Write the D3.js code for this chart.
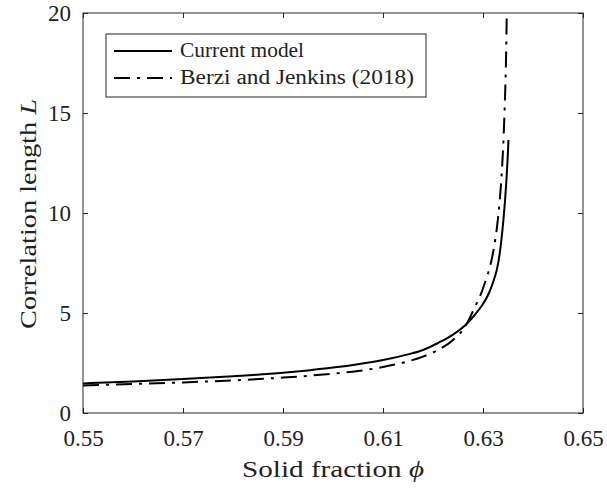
<!DOCTYPE html>
<html>
<head>
<meta charset="utf-8">
<script src="https://cdn.jsdelivr.net/npm/d3@7"></script>
<style>
  body { margin: 0; background: #fff; }
  text { font-family: "Liberation Serif", "DejaVu Serif", serif; fill: #222; }
</style>
</head>
<body>
<div id="chart"></div>
<script>
// solid fraction ticks and axis labels
const xTicks = [0.55, 0.57, 0.59, 0.61, 0.63, 0.65]
const yTicks = [0, 5, 10, 15, 20]

// Current model
const phiCurrent = [0.550, 0.560, 0.570, 0.580, 0.590, 0.595, 0.600, 0.605, 0.610, 0.615, 0.618, 0.621, 0.624, 0.6265, 0.6285, 0.6300, 0.6312, 0.6321, 0.6328, 0.6333, 0.6337, 0.6341, 0.6344, 0.6347, 0.6349, 0.6351]
const lenCurrent = [1.48, 1.58, 1.70, 1.84, 2.01, 2.13, 2.27, 2.44, 2.65, 2.93, 3.15, 3.50, 3.92, 4.40, 4.95, 5.45, 6.00, 6.60, 7.20, 7.90, 8.70, 9.70, 10.6, 11.7, 12.6, 13.65]

// Berzi and Jenkins (2018)
const phiBerzi = [0.550, 0.560, 0.570, 0.580, 0.590, 0.595, 0.600, 0.605, 0.610, 0.615, 0.618, 0.621, 0.624, 0.6265, 0.6281, 0.6301, 0.6321, 0.6328, 0.6333, 0.6337, 0.63405, 0.6343, 0.6345, 0.63463, 0.63475]
const lenBerzi = [1.38, 1.45, 1.53, 1.63, 1.77, 1.86, 1.97, 2.10, 2.30, 2.58, 2.82, 3.15, 3.65, 4.35, 5.15, 6.30, 8.15, 9.30, 10.5, 11.8, 13.4, 15.0, 16.6, 18.0, 20.0]

const seriesNames = ["Current model", "Berzi and Jenkins (2018)"]

const width = 607, height = 488
const margin = {top: 13, right: 24, bottom: 75, left: 83}

const svg = d3.select("#chart")
    .append("svg")
    .attr("width", width)
    .attr("height", height)

const x = d3.scaleLinear().domain([0.55, 0.65]).range([margin.left, width - margin.right])
const y = d3.scaleLinear().domain([0, 20]).range([height - margin.bottom, margin.top])

const axisColor = "#262626"

// clip so the curves stop at the box
svg.append("clipPath").attr("id", "clip")
    .append("rect")
    .attr("x", x(0.55)).attr("y", y(20))
    .attr("width", x(0.65) - x(0.55)).attr("height", y(0) - y(20))

const line = d3.line()
    .x(d => x(d[0]))
    .y(d => y(d[1]))
    .curve(d3.curveMonotoneX)

const current = phiCurrent.map((p, i) => [p, lenCurrent[i]])
const berzi = phiBerzi.map((p, i) => [p, lenBerzi[i]])

const dashDot = "16,7,3,7"

svg.append("path")
    .datum(berzi)
    .attr("clip-path", "url(#clip)")
    .attr("d", line)
    .attr("fill", "none")
    .attr("stroke", "black")
    .attr("stroke-width", 2)
    .attr("stroke-dasharray", dashDot)

svg.append("path")
    .datum(current)
    .attr("clip-path", "url(#clip)")
    .attr("d", line)
    .attr("fill", "none")
    .attr("stroke", "black")
    .attr("stroke-width", 2)

// axes, ticks pointing inward (matlab style), box on
const tickLen = 5
const styleAxis = g => {
    g.select(".domain").remove()
    g.selectAll(".tick line").attr("stroke", axisColor)
    g.selectAll(".tick text")
        .style("font-family", "Liberation Serif, DejaVu Serif, serif")
        .style("font-size", "23px")
        .attr("fill", "#222")
}

svg.append("g")
    .attr("transform", "translate(0," + y(0) + ")")
    .call(d3.axisBottom(x).tickValues(xTicks).tickFormat(d3.format(".2f")).tickSizeInner(-tickLen).tickSizeOuter(0).tickPadding(17))
    .call(styleAxis)

svg.append("g")
    .attr("transform", "translate(0," + y(20) + ")")
    .call(d3.axisTop(x).tickValues(xTicks).tickFormat("").tickSizeInner(-tickLen).tickSizeOuter(0))
    .call(styleAxis)

svg.append("g")
    .attr("transform", "translate(" + x(0.55) + ",0)")
    .call(d3.axisLeft(y).tickValues(yTicks).tickFormat(d3.format("d")).tickSizeInner(-tickLen).tickSizeOuter(0).tickPadding(12))
    .call(styleAxis)

svg.append("g")
    .attr("transform", "translate(" + x(0.65) + ",0)")
    .call(d3.axisRight(y).tickValues(yTicks).tickFormat("").tickSizeInner(-tickLen).tickSizeOuter(0))
    .call(styleAxis)

svg.append("rect")
    .attr("x", x(0.55)).attr("y", y(20))
    .attr("width", x(0.65) - x(0.55)).attr("height", y(0) - y(20))
    .attr("fill", "none")
    .attr("stroke", axisColor)
    .attr("stroke-width", 1)

// axis titles (stretched a bit, the original font is wider)
const xTitle = svg.append("text")
    .attr("x", (x(0.55) + x(0.65)) / 2)
    .attr("y", 477)
    .attr("text-anchor", "middle")
    .attr("textLength", 182)
    .attr("lengthAdjust", "spacingAndGlyphs")
    .style("font-size", "24px")
xTitle.append("tspan").text("Solid fraction ")
xTitle.append("tspan").style("font-style", "italic").text("ϕ")

const yTitle = svg.append("text")
    .attr("transform", "translate(36," + (y(10) + 1) + ") rotate(-90)")
    .attr("text-anchor", "middle")
    .attr("textLength", 230)
    .attr("lengthAdjust", "spacingAndGlyphs")
    .style("font-size", "24px")
yTitle.append("tspan").text("Correlation length ")
yTitle.append("tspan").style("font-style", "italic").text("L")

// legend
const legend = svg.append("g")
legend.append("rect")
    .attr("x", 106).attr("y", 34)
    .attr("width", 320).attr("height", 63)
    .attr("fill", "white")
    .attr("stroke", axisColor)
    .attr("stroke-width", 1)

const legendWidths = [124, 234]
seriesNames.forEach((name, i) => {
    const ly = 51 + i * 27
    legend.append("line")
        .attr("x1", 114).attr("x2", 172)
        .attr("y1", ly).attr("y2", ly)
        .attr("stroke", "black")
        .attr("stroke-width", 2)
        .attr("stroke-dasharray", i == 1 ? dashDot : null)
    legend.append("text")
        .attr("x", 180).attr("y", ly + 6)
        .attr("textLength", legendWidths[i])
        .attr("lengthAdjust", "spacingAndGlyphs")
        .style("font-size", "20px")
        .text(name)
})
</script>
</body>
</html>
